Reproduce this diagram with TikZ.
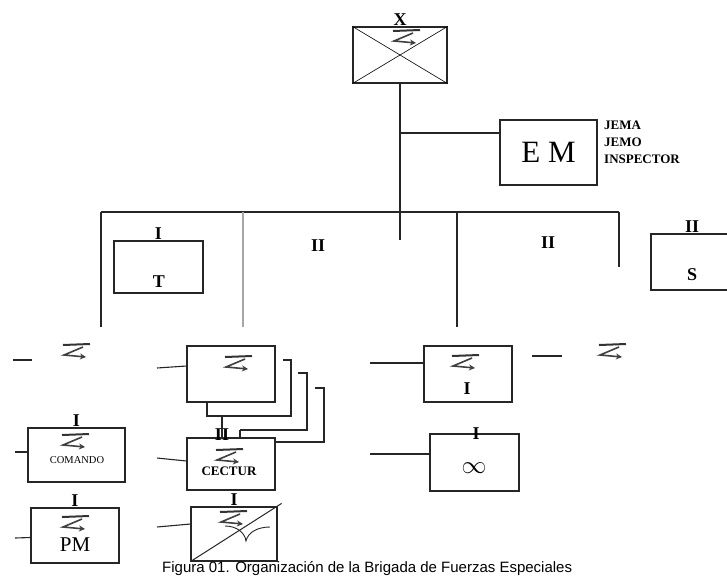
\documentclass[tikz,border=0pt]{standalone}
\usepackage{fontspec}
\setmainfont{Liberation Serif}
\newfontfamily\capfont{Liberation Sans}
\usetikzlibrary{arrows.meta}
\begin{document}
\begin{tikzpicture}[x=1pt,y=-1pt,
 ln/.style={line width=1.1pt, draw=black!85},
 unit/.style={draw=black!85, line width=1.2pt, fill=white, inner sep=0pt},
 ech/.style={font=\bfseries\fontsize{18}{18}\selectfont, inner sep=0pt},
 airb/.pic={
   \draw[line width=2pt, black!80] (-13,-6) -- (14,-7);
   \draw[line width=1.6pt, black!75, -{Stealth[length=6pt,width=6pt]}] (7,-4) -- (-12,4) -- (10,6);
 }
]
\useasboundingbox (0,0) rectangle (727,576);

% --- top unit X
\node[unit, minimum width=94pt, minimum height=56pt] (X) at (400,55) {};
\draw[line width=0.6pt] (X.north west) -- (X.south east) (X.north east) -- (X.south west);
\pic at (406,37) {airb};
\node[ech, anchor=south] (Xl) at ([yshift=1pt]X.north) {X};

% --- EM
\node[unit, minimum width=97pt, minimum height=65pt, font=\fontsize{31}{31}\selectfont] (EM) at (548.5,152.5) {E M};
\node[anchor=north west, align=left, font=\bfseries\fontsize{13}{17}\selectfont, inner sep=0pt] (EMt) at (604,121) {JEMA\\JEMO\\INSPECTOR};

% --- trunk and bar
\coordinate (trunkEnd) at (400,240);
\coordinate (jEM) at (400,133);
\coordinate (hL) at (101,212);
\coordinate (hR) at (619,212);
\coordinate (vA) at (101,327);
\coordinate (vB0) at (243,212);
\coordinate (vB) at (243,327);
\coordinate (vC0) at (457,212);
\coordinate (vC) at (457,327);
\coordinate (vD) at (619,267);
\draw[ln] (X.south) -- (trunkEnd);
\draw[ln] (jEM) -- (jEM -| EM.west);
\draw[ln] (hL) -- (hR);
\draw[ln] (hL) -- (vA);
\draw[ln] (vC0) -- (vC);
\draw[ln] (hR) -- (vD);
\draw[line width=2pt, gray!70] (vB0) -- (vB);

% --- second row
\node[unit, minimum width=89pt, minimum height=52pt] (T) at (158.5,267) {};
\node[ech, anchor=south] (Tl) at ([yshift=1pt]T.north) {I};
\node[ech] (Tt) at (159,282) {T};
\node[ech] (IIa) at (318,246) {II};
\node[ech] (IIb) at (548,243) {II};
\node[unit, minimum width=82pt, minimum height=56pt] (S) at (692,262) {};
\node[ech, anchor=south] (Sl) at ([yshift=1pt]S.north) {II};
\node[ech] (St) at (692,275) {S};

% --- third row, left free symbol
\coordinate (f1a) at (13,360);
\coordinate (f1b) at (32,360);
\draw[ln] (f1a) -- (f1b);
\pic at (76,351) {airb};

% --- stacked boxes
\draw[ln] (283,360) -- (291,360) -- (291,416) -- (207,416) -- (207,402);
\draw[ln] (298,373) -- (307,373) -- (307,430) -- (240,430);
\draw[ln] (315,388) -- (324,388) -- (324,442) -- (240,442) -- (240,430);
\node[unit, minimum width=88pt, minimum height=56pt] (B1) at (231,374) {};
\pic at (238,363) {airb};
\coordinate (l1) at (157,368);
\draw[ln] (l1) -- ([yshift=8pt]B1.west);

% --- battalion I box
\node[unit, minimum width=88pt, minimum height=56pt] (BI) at (468,374) {};
\pic at (465,362) {airb};
\node[ech] (BIt) at (467,389) {I};
\coordinate (l2) at (370,363);
\draw[ln] (l2) -- ([yshift=11pt]BI.west);
\coordinate (f2a) at (532,356);
\coordinate (f2b) at (562,356);
\draw[ln] (f2a) -- (f2b);
\pic at (612,351) {airb};

% --- infinity box
\node[unit, minimum width=89pt, minimum height=57pt] (INF) at (474.5,462.5) {};
\node[ech] (INFl) at (476,434) {I};
\node[font=\fontsize{27}{27}\selectfont, inner sep=0pt] (INFt) at (474,468) {$\infty$};
\coordinate (l3) at (370,454);
\draw[ln] (l3) -- ([yshift=8.5pt]INF.west);

% --- COMANDO
\node[unit, minimum width=97pt, minimum height=54pt] (COM) at (76.5,455) {};
\node[ech, anchor=south] (COMl) at ([yshift=1pt]COM.north) {I};
\pic at (75,441) {airb};
\node[font=\fontsize{10.5}{10.5}\selectfont, inner sep=0pt] (COMt) at (77,460) {COMANDO};
\coordinate (l4) at (15,452);
\draw[ln] (l4) -- ([yshift=3pt]COM.west);

% --- CECTUR
\node[unit, minimum width=88pt, minimum height=52pt] (CEC) at (231,464) {};
\draw[ln] (222,416) -- (CEC.north -| 222,416);
\node[ech] (CECl) at (222,435) {II};
\pic at (229,456) {airb};
\node[font=\bfseries\fontsize{13}{13}\selectfont, inner sep=0pt] (CECt) at (229,471) {CECTUR};
\coordinate (l5) at (157,458);
\draw[ln] (l5) -- ([yshift=3pt]CEC.west);

% --- PM
\node[unit, minimum width=88pt, minimum height=55pt] (PM) at (75,535.5) {};
\node[ech, anchor=south] (PMl) at ([yshift=1pt]PM.north) {I};
\pic at (75,523) {airb};
\node[font=\fontsize{21}{21}\selectfont, inner sep=0pt] (PMt) at (75,545) {PM};
\coordinate (l6) at (15,538);
\draw[ln] (l6) -- ([yshift=-2pt]PM.west);

% --- diagonal box
\node[unit, minimum width=86pt, minimum height=54pt] (DG) at (234,534) {};
\node[ech, anchor=south] (DGl) at ([yshift=1pt]DG.north) {I};
\draw[line width=1pt, black!85] (DG.south west) -- ([shift={(4pt,3pt)}]DG.north east);
\pic at (233,518) {airb};
\draw[line width=0.9pt, black!85] (225,526) .. controls (237,526) and (245,533) .. (246,541)
  .. controls (248,532) and (258,527) .. (270,527);
\coordinate (l7) at (157,527);
\draw[ln] (l7) -- ([yshift=10pt]DG.west);

% --- caption
\node[anchor=base west, inner sep=0pt, font=\capfont\fontsize{15}{15}\selectfont] (cap) at (162,572)
  {Figura 01. Organización de la Brigada de Fuerzas Especiales};
\end{tikzpicture}
\end{document}
